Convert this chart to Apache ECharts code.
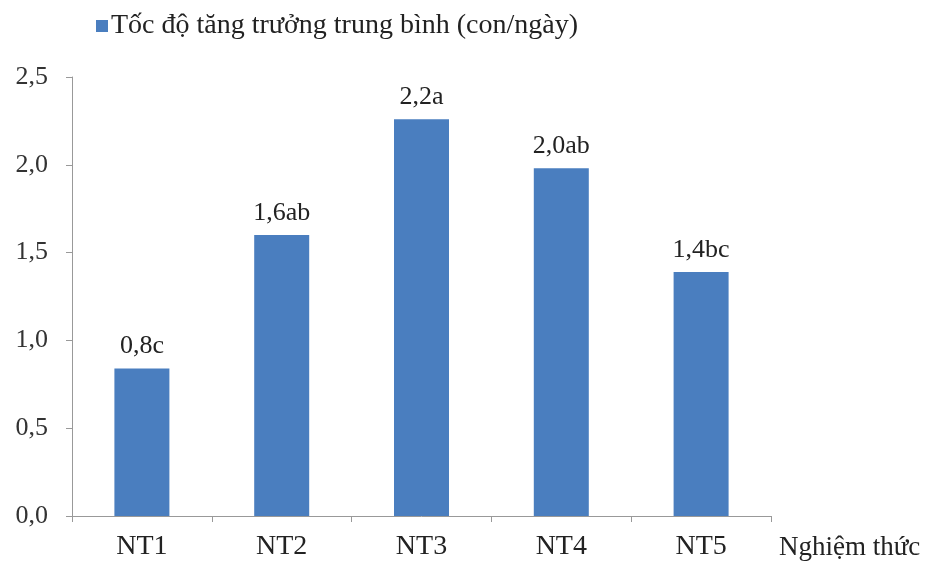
<!DOCTYPE html>
<html>
<head>
<meta charset="utf-8">
<script src="https://cdn.jsdelivr.net/npm/echarts@6/dist/echarts.min.js"></script>
<style>html,body{margin:0;padding:0;background:#fff;}#c{width:930px;height:562px;}</style>
</head>
<body>
<div id="c"></div>
<script>
const categories = ['NT1', 'NT2', 'NT3', 'NT4', 'NT5'];
const values = [0.84, 1.60, 2.26, 1.98, 1.39];
const barLabels = ['0,8c', '1,6ab', '2,2a', '2,0ab', '1,4bc'];
const seriesName = 'Tốc độ tăng trưởng trung bình (con/ngày)';
const xAxisName = 'Nghiệm thức';
const yTicks = { min: 0, max: 2.5, interval: 0.5 };

const FONT = '"Liberation Serif", "Times New Roman", serif';
const chart = echarts.init(document.getElementById('c'), null, { renderer: 'canvas' });
chart.setOption({
  animation: false,
  backgroundColor: '#fff',
  legend: {
    data: [seriesName],
    left: 91, top: 7,
    icon: 'rect', itemWidth: 12, itemHeight: 12, itemGap: 6,
    textStyle: { fontFamily: FONT, fontSize: 28, color: '#222', padding: [0, 0, 0, -2] }
  },
  grid: { left: 72, right: 159, top: 77, bottom: 46, containLabel: false },
  xAxis: {
    type: 'category',
    data: categories,
    name: xAxisName,
    nameLocation: 'end',
    nameGap: 8,
    nameTextStyle: { fontFamily: FONT, fontSize: 27, color: '#222', verticalAlign: 'top', padding: [18, 0, 0, 0] },
    axisLine: { lineStyle: { color: '#999', width: 1 } },
    axisTick: { show: true, length: 6, lineStyle: { color: '#999' } },
    axisLabel: { fontFamily: FONT, fontSize: 28, color: '#222', margin: 17 }
  },
  yAxis: {
    type: 'value',
    min: yTicks.min, max: yTicks.max, interval: yTicks.interval,
    axisLine: { show: true, lineStyle: { color: '#999', width: 1 } },
    axisTick: { show: true, length: 6, lineStyle: { color: '#999' } },
    splitLine: { show: false },
    axisLabel: {
      fontFamily: FONT, fontSize: 26, color: '#333', margin: 24,
      formatter: v => v.toFixed(1).replace('.', ',')
    }
  },
  series: [{
    name: seriesName,
    type: 'bar',
    data: values,
    barWidth: 55,
    itemStyle: { color: '#4a7ebf' },
    label: {
      show: true, position: 'top', distance: 9,
      fontFamily: FONT, fontSize: 26, color: '#222',
      formatter: p => barLabels[p.dataIndex]
    }
  }]
});
</script>
</body>
</html>
